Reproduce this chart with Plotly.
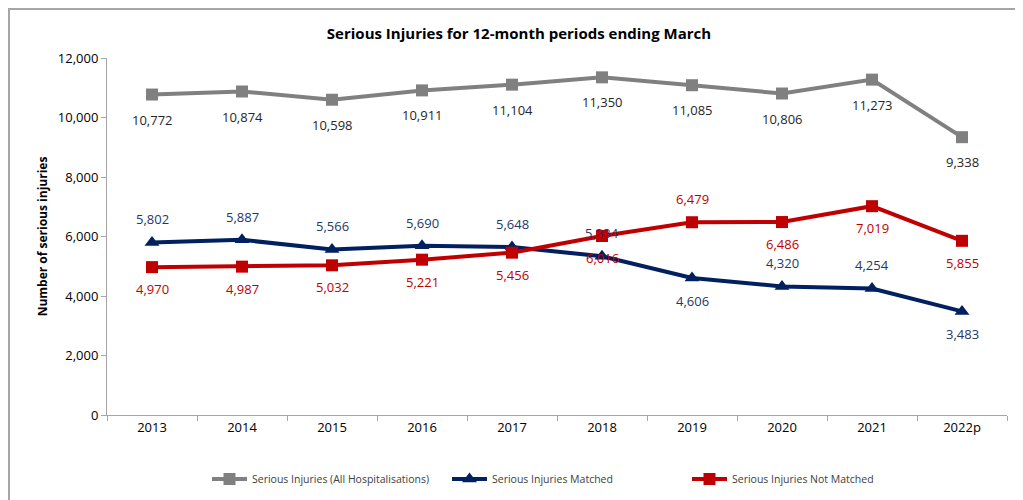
import plotly.graph_objects as go

years = ["2013", "2014", "2015", "2016", "2017", "2018", "2019", "2020", "2021", "2022p"]
all_hosp = [10772, 10874, 10598, 10911, 11104, 11350, 11085, 10806, 11273, 9338]
matched = [5802, 5887, 5566, 5690, 5648, 5334, 4606, 4320, 4254, 3483]
not_matched = [4970, 4987, 5032, 5221, 5456, 6016, 6479, 6486, 7019, 5855]

# label side: +1 above the point, -1 below
all_side = [-1] * 10
matched_side = [1] * 6 + [-1, 1, 1, -1]
not_matched_side = [-1] * 6 + [1, -1, -1, -1]

FONT = "Open Sans"
GRAY = "#808080"
BLUE = "#002060"
RED = "#C00000"

fig = go.Figure()
series = [
    ("Serious Injuries (All Hospitalisations)", all_hosp, all_side, GRAY, "square", 12, "#262626", -25),
    ("Serious Injuries Matched", matched, matched_side, BLUE, "triangle-up", 13, "#1F3864", -23),
    ("Serious Injuries Not Matched", not_matched, not_matched_side, RED, "square", 12, "#C00000", -22),
]
for name, vals, sides, col, sym, msize, tcol, below in series:
    fig.add_trace(go.Scatter(
        x=years, y=vals, name=name, mode="lines+markers",
        line=dict(color=col, width=4),
        marker=dict(symbol=sym, size=msize, color=col),
    ))
    for i, (v, s) in enumerate(zip(vals, sides)):
        fig.add_annotation(x=i, y=v, text=f"{v:,}", showarrow=False,
                           yshift=23 if s > 0 else below,
                           font=dict(color=tcol, size=13, family=FONT))

# page body adds an 8px offset; figure coords = reference coords - 8
OFF = 8
W, H = 1023, 500
L, T = 107 - OFF, 58 - OFF
R = W - (1007 - OFF)
B = H - (415 - OFF)
pw, ph = W - L - R, H - T - B

fig.update_layout(
    width=W, height=H,
    margin=dict(l=L, r=R, t=T, b=B, autoexpand=False),
    paper_bgcolor="white", plot_bgcolor="white",
    font=dict(family=FONT, size=12, color="#262626"),
    title=dict(text="<b>Serious Injuries for 12-month periods ending March</b>",
               x=(519 - OFF) / W, xanchor="center", y=1 - (34 - OFF) / H, yanchor="middle",
               font=dict(size=15, family=FONT, color="black")),
    showlegend=True,
    legend=dict(orientation="h", x=(207 - OFF - L) / pw, xanchor="left",
                y=(415 - 479) / ph, yanchor="middle",
                font=dict(size=10.5, family=FONT, color="#404040"), itemwidth=35,
                entrywidth=190, entrywidthmode="pixels"),
    xaxis=dict(type="category", range=[-0.5, len(years) - 0.5], showgrid=False, showline=True,
               linecolor="#A6A6A6", linewidth=1,
               ticks="outside", tickson="boundaries", ticklen=5, tickcolor="#A6A6A6",
               tickfont=dict(size=13, family=FONT, color="black"), automargin=False),
    yaxis=dict(range=[0, 12000], dtick=2000, tickformat=",", showgrid=False, zeroline=False,
               showline=True, linecolor="#A6A6A6", linewidth=1, ticks="outside", ticklen=5,
               tickcolor="#A6A6A6", tickfont=dict(size=13, family=FONT, color="black"),
               automargin=False,
               title=dict(text="<b>Number of serious injuries</b>", font=dict(size=12, family=FONT, color="black"),
                          standoff=7)),
    shapes=[dict(type="rect", xref="paper", yref="paper",
                 x0=(1 - L) / pw, x1=(1020 - OFF - L) / pw,
                 y0=(ph + T - H - 10) / ph, y1=(ph + T - 1) / ph,
                 line=dict(color="#A6A6A6", width=2), fillcolor="rgba(0,0,0,0)", layer="below")],
)

fig.write_html("out.html")
